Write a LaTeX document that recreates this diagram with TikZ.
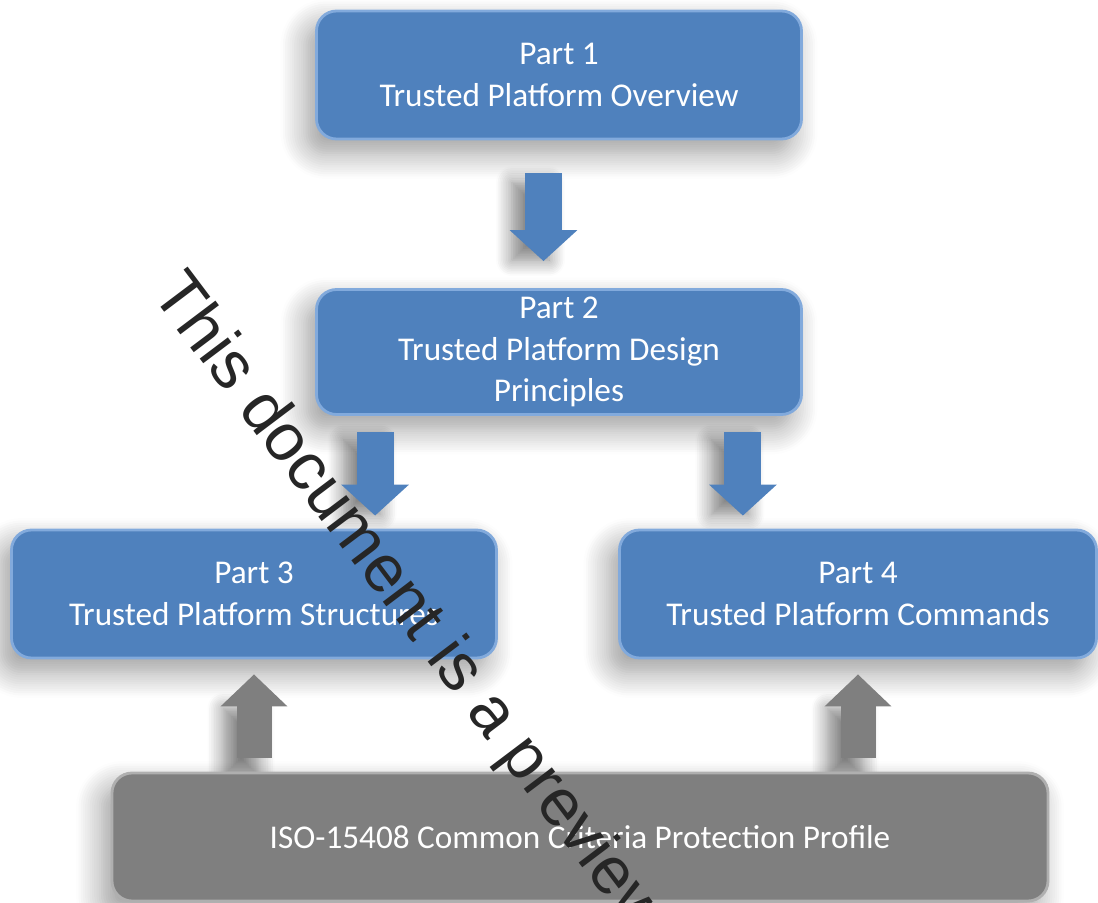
\documentclass[tikz,border=0pt]{standalone}
\usepackage{fontspec}
\setmainfont{Carlito}
\newfontfamily\wmfont{Liberation Sans}
\usetikzlibrary{arrows.meta,shadows.blur,backgrounds}

\definecolor{partblue}{RGB}{79,129,189}
\definecolor{partedge}{RGB}{130,170,220}
\definecolor{profgrey}{RGB}{127,127,127}
\definecolor{profedge}{RGB}{175,175,175}

\tikzset{
    partbox/.style = {rectangle, rounded corners=2mm, fill=partblue, draw=partedge, line width=0.8pt,
        minimum width=4.85cm, minimum height=1.28cm, inner sep=0pt, align=center, text=white,
        font=\fontsize{9.45}{11.8}\selectfont,
        blur shadow={shadow xshift=-1mm, shadow yshift=-1.4mm, shadow blur radius=2.6mm, shadow blur steps=12, shadow opacity=40}},
    profbox/.style = {partbox, fill=profgrey, draw=profedge},
    bluearrow/.style = {draw=partblue, line width=3.7mm, -{Triangle[length=3.1mm, width=6.6mm]}},
    greyarrow/.style = {draw=profgrey, line width=3.5mm, -{Triangle[length=3.2mm, width=6.5mm]}},
    arrowshade/.style = {blur shadow={shadow xshift=-1.3mm, shadow yshift=-0.4mm, shadow blur radius=1.6mm, shadow blur steps=10, shadow opacity=50}}
}

\begin{document}
\begin{tikzpicture}[x=0.1mm, y=-0.1mm]
            \useasboundingbox (0,0) rectangle (1098,903);
            \clip (0,0) rectangle (1098,903);

            \node[partbox] (p1) at (559, 75) {Part 1\\Trusted Platform Overview};
            \node[partbox, minimum height=1.25cm] (p2) at (559, 352) {Part 2\\Trusted Platform Design\\Principles};
            \node[partbox] (p3) at (254, 594) {Part 3\\Trusted Platform Structures};
            \node[partbox, minimum width=4.77cm] (p4) at (858, 594) {Part 4\\Trusted Platform Commands};
            \node[profbox, minimum width=9.36cm] (p5) at (580, 837) {ISO-15408 Common Criteria Protection Profile};

            % soft shade behind the block arrows
            \begin{pgfonlayer}{background}
                \path[arrowshade] ([xshift=-3.4mm, yshift=-3.8mm]p1.south) rectangle ([xshift=0.3mm, yshift=3.2mm]p2.north);
                \path[arrowshade] ([xshift=4.15mm, yshift=-2mm]p2.south west) rectangle ([xshift=7.85mm, yshift=1.8mm]p2.south west |- p3.north);
                \path[arrowshade] ([xshift=-7.85mm, yshift=-2mm]p2.south east) rectangle ([xshift=-4.15mm, yshift=1.8mm]p2.south east |- p4.north);
                \path[arrowshade] ([xshift=-1.75mm, yshift=-4.5mm]p3.south) rectangle ([xshift=1.75mm]p5.north -| p3.south);
                \path[arrowshade] ([xshift=-1.75mm, yshift=-4.5mm]p4.south) rectangle ([xshift=1.75mm]p5.north -| p4.south);
            \end{pgfonlayer}

            % downward arrows between the parts
            \draw[bluearrow, shorten <=3.3mm, shorten >=2.7mm] ([xshift=-1.55mm]p1.south) -- ([xshift=-1.55mm]p2.north);
            \draw[bluearrow, shorten <=1.6mm, shorten >=1.3mm] ([xshift=6mm]p2.south west) -- ([xshift=6mm]p2.south west |- p3.north);
            \draw[bluearrow, shorten <=1.6mm, shorten >=1.3mm] ([xshift=-6mm]p2.south east) -- ([xshift=-6mm]p2.south east |- p4.north);

            % the protection profile feeds parts 3 and 4
            \draw[greyarrow, shorten <=1.4mm, shorten >=1.5mm] (p5.north -| p3.south) -- (p3.south);
            \draw[greyarrow, shorten <=1.4mm, shorten >=1.5mm] (p5.north -| p4.south) -- (p4.south);

            \node[rotate=-53, anchor=base west, inner sep=0pt, text=black!85, font=\wmfont\fontsize{19}{19}\selectfont] (wm) at (150, 293) {This document is a preview};

        \end{tikzpicture}
\end{document}
